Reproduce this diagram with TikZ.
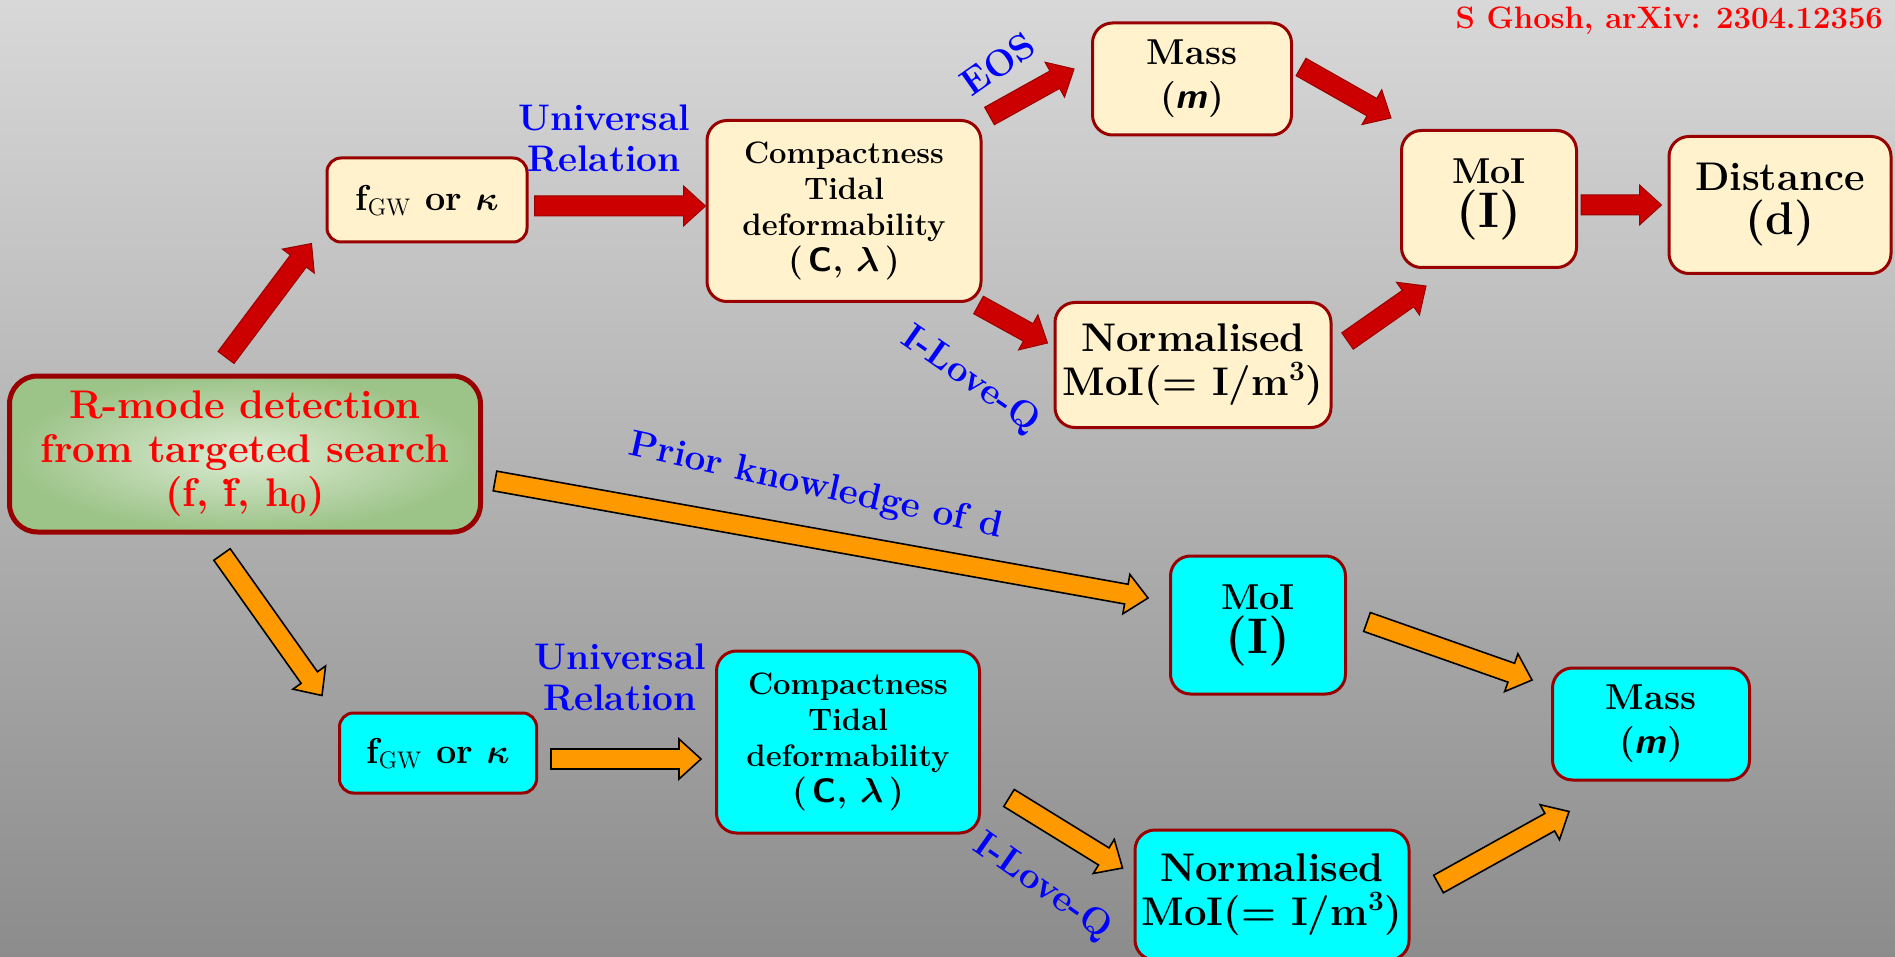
\documentclass[tikz,border=0pt]{standalone}
\usetikzlibrary{calc}
\definecolor{rmframe}{HTML}{990000}
\definecolor{rmcream}{HTML}{FFF2CC}
\definecolor{rmcyan}{HTML}{00FFFF}
\definecolor{rmred}{HTML}{CC0000}
\definecolor{rmorange}{HTML}{FF9900}
\definecolor{rmblue}{HTML}{0000FF}
\definecolor{rmtext}{HTML}{FF0000}
\definecolor{rmgreenin}{HTML}{DCECD4}
\definecolor{rmgreenout}{HTML}{9CC388}
\definecolor{rmbgtop}{HTML}{D8D8D8}
\definecolor{rmbgbot}{HTML}{8C8C8C}
\newcommand{\fsz}[2]{\fontsize{#1}{#2}\selectfont}
\tikzset{
  fat/.style={to path={let \p1=(\tikztostart), \p2=(\tikztotarget) in
    ($(\p1)!5pt!90:(\p2)$) -- ($(\p2)!11pt!(\p1)!5pt!-90:(\p1)$) -- ($(\p2)!11pt!(\p1)!10pt!-90:(\p1)$)
    -- (\p2) -- ($(\p2)!11pt!(\p1)!10pt!90:(\p1)$) -- ($(\p2)!11pt!(\p1)!5pt!90:(\p1)$)
    -- ($(\p1)!5pt!-90:(\p2)$) -- cycle}},
  srcbox/.style={draw=rmframe, line width=2.5pt, rounded corners=14pt, inner color=rmgreenin, outer color=rmgreenout, text=rmtext, align=center, font=\fsz{20}{22}\bfseries},
  ybox/.style={draw=rmframe, line width=1.5pt, fill=rmcream, rounded corners=10pt, align=center, inner sep=0pt, font=\fsz{18}{22}\bfseries},
  cbox/.style={ybox, fill=rmcyan},
  smalltxt/.style={font=\fsz{15.5}{18}\bfseries},
  lbl/.style={text=rmblue, align=center, font=\fsz{18.5}{20.5}\bfseries},
  redarr/.style={fat, fill=rmred, draw=rmframe, line width=0.5pt},
  orgarr/.style={fat, fill=rmorange, draw=black, line width=0.8pt},
}
\begin{document}
\begin{tikzpicture}[x=0.5pt, y=-0.5pt, font=\bfseries]
  \useasboundingbox (0,0) rectangle (1895,957);
  \shade[top color=rmbgtop, bottom color=rmbgbot] (0,0) rectangle (1895,957);
  % source
  \node[srcbox, minimum width=235.5pt, minimum height=78pt] (src) at (245,454) {R-mode detection\\from targeted search\\(f, \.{f}, h$_{\mathbf{0}}$)};
  % upper chain
  \node[ybox, minimum width=100pt, minimum height=42pt, rounded corners=7pt] (fgwT) at (427,200) {f$_{\mathrm{GW}}$ or {\boldmath$\kappa$}};
  \node[ybox, smalltxt, minimum width=137pt, minimum height=90.5pt] (cmpT) at (844,211) {Compactness\\Tidal\\deformability\\\fsz{17}{20}(\,\textsf{C}, {\boldmath$\lambda$}\,)};
  \node[ybox, minimum width=99.5pt, minimum height=56pt] (massT) at (1192,79) {Mass\\(\textsf{\slshape m})};
  \node[ybox, font=\fsz{20}{22}\bfseries, minimum width=138pt, minimum height=62.5pt] (normT) at (1193,365) {Normalised\\MoI(= I/m\textsuperscript{3})};
  \node[ybox, minimum width=87.5pt, minimum height=68.5pt] (moiT) at (1489,199) {MoI\\\fsz{25}{28}(I)};
  \node[ybox, font=\fsz{20}{22}\bfseries, minimum width=111pt, minimum height=68.5pt] (distT) at (1780,205) {Distance\\\fsz{23}{26}(d)};
  % lower chain
  \node[cbox, minimum width=98.5pt, minimum height=40pt, rounded corners=7pt] (fgwB) at (438,753) {f$_{\mathrm{GW}}$ or {\boldmath$\kappa$}};
  \node[cbox, smalltxt, minimum width=131.5pt, minimum height=91pt] (cmpB) at (848,742) {Compactness\\Tidal\\deformability\\\fsz{17}{20}(\,\textsf{C}, {\boldmath$\lambda$}\,)};
  \node[cbox, minimum width=87.5pt, minimum height=69pt] (moiB) at (1258,625) {MoI\\\fsz{25}{28}(I)};
  \node[cbox, minimum width=98.5pt, minimum height=56pt] (massB) at (1651,724) {Mass\\(\textsf{\slshape m})};
  \node[cbox, font=\fsz{20}{22}\bfseries, minimum width=137pt, minimum height=65pt] (normB) at (1272,895) {Normalised\\MoI(= I/m\textsuperscript{3})};
  % labels
  \node[lbl] (urT) at (604,138) {Universal\\Relation};
  \node[lbl, rotate=35] (eos) at (998,64) {EOS};
  \node[lbl, rotate=-35] (ilqT) at (970,380) {I-Love-Q};
  \node[lbl, rotate=-12.5] (prior) at (816,487) {Prior knowledge of d};
  \node[lbl] (urB) at (620,677) {Universal\\Relation};
  \node[lbl, rotate=-35] (ilqB) at (1042,887) {I-Love-Q};
  \node[anchor=east, text=rmtext, font=\fsz{15.5}{18}\bfseries] (cite) at (1890,21) {S Ghosh, arXiv: 2304.12356};
  % red arrows
  \draw[redarr] ([shift={(-19,-16)}]src.north) to ([shift={(-14,0)}]fgwT.south west);
  \draw[redarr] ([shift={(6,6)}]fgwT.east) to ([shift={(0,-5)}]cmpT.west);
  \draw[redarr] ([shift={(7,-3)}]cmpT.north east) to ([shift={(-17,-10)}]massT.west);
  \draw[redarr] ([shift={(-4,2)}]cmpT.south east) to ([shift={(-6,-22)}]normT.west);
  \draw[redarr] ([shift={(8,-12)}]massT.east) to ([shift={(-9,-11)}]moiT.north west);
  \draw[redarr] ([shift={(15,-24)}]normT.east) to ([shift={(26,17)}]moiT.south west);
  \draw[redarr] ([shift={(3,6)}]moiT.east) to ([shift={(-6,0)}]distT.west);
  % orange arrows
  \draw[orgarr] ([shift={(-23,20)}]src.south) to ([shift={(-16,-16)}]fgwB.north west);
  \draw[orgarr] ([shift={(12,27)}]src.east) to ([shift={(-21,-27)}]moiB.west);
  \draw[orgarr] ([shift={(13,6)}]fgwB.east) to ([shift={(-14,17)}]cmpB.west);
  \draw[orgarr] ([shift={(28,56)}]cmpB.east) to ([shift={(-11,-27)}]normB.west);
  \draw[orgarr] ([shift={(20,-3)}]moiB.east) to ([shift={(-19,-44)}]massB.west);
  \draw[orgarr] ([shift={(28,-11)}]normB.east) to ([shift={(18,30)}]massB.south west);
\end{tikzpicture}
\end{document}
